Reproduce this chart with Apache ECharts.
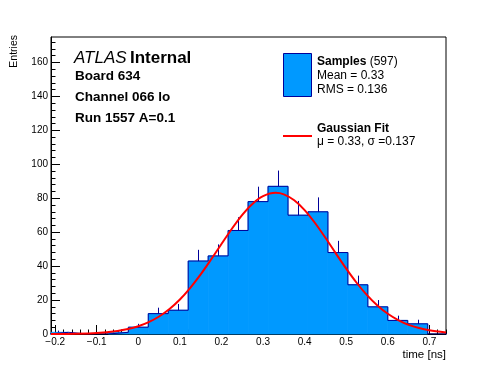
<!DOCTYPE html>
<html><head><meta charset="utf-8">
<script src="https://cdn.jsdelivr.net/npm/echarts@6/dist/echarts.min.js"></script>
<style>html,body{margin:0;padding:0;background:#fff}#c{width:496px;height:372px}</style>
</head><body><div id="c"></div>
<script>
// ---- data ----
const binCenters = [-0.192,-0.144,-0.096,-0.048,0,0.048,0.096,0.144,0.192,0.24,0.288,0.336,0.384,0.432,0.48,0.528,0.576,0.624,0.672,0.72];
const binCounts  = [1,0,0,1,4,12,14,43,46,61,78,87,70,72,48,29,16,8,6,0];
const binErrors  = [1,0,0,1,2,3.5,3.7,6.6,6.8,7.8,8.8,9.3,8.4,8.5,6.9,5.4,4,2.8,2.4,0];
const binWidth = 0.048;
const fitX = [-0.21,-0.15,-0.1,-0.05,-0.025,0,0.025,0.05,0.075,0.1,0.125,0.15,0.175,0.2,0.225,0.25,0.275,0.3,0.33,0.35,0.375,0.4,0.425,0.45,0.475,0.5,0.525,0.55,0.575,0.6,0.625,0.65,0.675,0.7,0.74];
const fitY = [0.04,0.18,0.6,1.8,2.9,4.6,7.0,10.3,14.7,20.3,27.2,35.1,43.9,53.0,62.0,70.2,76.8,81.2,83.2,82.3,78.8,73.0,65.4,56.7,47.5,38.5,30.2,22.9,16.8,11.9,8.2,5.4,3.5,2.2,0.94];
const xTicks = [-0.2,-0.1,0,0.1,0.2,0.3,0.4,0.5,0.6,0.7];
const yTicks = [0,20,40,60,80,100,120,140,160];
const xRange = [-0.21, 0.74];
const yRange = [0, 175];

const FONT = '"Liberation Sans", Arial, Helvetica, sans-serif';
const chart = echarts.init(document.getElementById('c'));

// minor ticks: 5 divisions per major interval, within the axis range
function minorTicks(major, range) {
  const step = (major[1] - major[0]) / 5;
  const out = [];
  const start = Math.ceil((range[0] - 1e-9) / step), end = Math.floor((range[1] + 1e-9) / step);
  for (let k = start; k <= end; k++) out.push(+(k * step).toFixed(6));
  return out;
}

const histData = binCenters.map((c, i) => [c, binCounts[i], binErrors[i]]);
const outline = [];
binCenters.forEach((c, i) => {
  const l = c - binWidth / 2, r = c + binWidth / 2;
  if (i === 0) outline.push([l, 0]);
  outline.push([l, binCounts[i]]);
  outline.push([r, binCounts[i]]);
  if (i === binCenters.length - 1) outline.push([r, 0]);
});
const fitData = fitX.map((x, i) => [x, fitY[i]]);

function fmtX(v) {
  if (Math.abs(v) < 1e-9) return '0';
  return (v < 0 ? '\u2212' : '') + Math.abs(v).toFixed(1);
}

chart.setOption({
  animation: false,
  backgroundColor: '#fff',
  grid: { left: 51, right: 50, top: 37, bottom: 38, show: true, borderColor: '#000', borderWidth: 1, backgroundColor: 'transparent' },
  xAxis: [
    {
      type: 'value', min: xRange[0], max: xRange[1], position: 'bottom',
      axisLine: { show: true, onZero: false, lineStyle: { color: '#000', width: 1 } },
      splitLine: { show: false },
      axisTick: { show: true, inside: true, length: 9, customValues: xTicks, lineStyle: { color: '#000' } },
      axisLabel: { show: true, customValues: xTicks, margin: 3, fontSize: 10, color: '#000', fontFamily: FONT, formatter: fmtX }
    },
    {
      type: 'value', min: xRange[0], max: xRange[1], position: 'bottom',
      axisLine: { show: false, onZero: false }, splitLine: { show: false }, axisLabel: { show: false },
      axisTick: { show: true, inside: true, length: 4.5, customValues: minorTicks(xTicks, xRange), lineStyle: { color: '#000' } }
    }
  ],
  yAxis: [
    {
      type: 'value', min: yRange[0], max: yRange[1], position: 'left',
      axisLine: { show: true, onZero: false, lineStyle: { color: '#000', width: 1 } },
      splitLine: { show: false },
      axisTick: { show: true, inside: true, length: 9, customValues: yTicks, lineStyle: { color: '#000' } },
      axisLabel: { show: true, customValues: yTicks, margin: 3, fontSize: 10, color: '#000', fontFamily: FONT }
    },
    {
      type: 'value', min: yRange[0], max: yRange[1], position: 'left',
      axisLine: { show: false, onZero: false }, splitLine: { show: false }, axisLabel: { show: false },
      axisTick: { show: true, inside: true, length: 4.5, customValues: minorTicks(yTicks, yRange), lineStyle: { color: '#000' } }
    }
  ],
  series: [
    {
      type: 'custom', name: 'Samples', xAxisIndex: 0, yAxisIndex: 0, z: 1,
      data: histData,
      renderItem: function (params, api) {
        const c = api.value(0), n = api.value(1);
        if (n <= 0) return null;
        const p0 = api.coord([c - binWidth / 2, n]);
        const p1 = api.coord([c + binWidth / 2, 0]);
        const shape = echarts.graphic.clipRectByRect(
          { x: p0[0], y: p0[1], width: p1[0] - p0[0], height: p1[1] - p0[1] },
          { x: params.coordSys.x, y: params.coordSys.y, width: params.coordSys.width, height: params.coordSys.height });
        return shape && { type: 'rect', shape: shape, style: { fill: '#0099ff', stroke: '#0099ff', lineWidth: 0.8 } };
      }
    },
    {
      type: 'custom', name: 'errors', xAxisIndex: 0, yAxisIndex: 0, z: 2,
      data: histData,
      renderItem: function (params, api) {
        const c = api.value(0), n = api.value(1), e = api.value(2);
        if (n <= 0) return null;
        const a = api.coord([c, n]);
        const b = api.coord([c, n + e]);
        const x = Math.round(a[0]) + 0.5;
        return { type: 'line', shape: { x1: x, y1: a[1], x2: x, y2: b[1] }, style: { stroke: '#000099', lineWidth: 1 } };
      }
    },
    {
      type: 'line', name: 'outline', data: outline, symbol: 'none', z: 3, clip: true,
      lineStyle: { color: '#000099', width: 1 }
    },
    {
      type: 'line', name: 'Gaussian Fit', data: fitData, symbol: 'none', smooth: 0.3, z: 4, clip: true,
      lineStyle: { color: '#ff0000', width: 2 }
    }
  ],
  graphic: [
    { type: 'text', x: 14, y: 35, rotation: Math.PI / 2, style: { text: 'Entries', fontSize: 10.5, fontFamily: FONT, fill: '#000', textAlign: 'right', textVerticalAlign: 'middle' } },
    { type: 'text', x: 446, y: 355, style: { text: 'time [ns]', fontSize: 11.5, fontFamily: FONT, fill: '#000', textAlign: 'right', textVerticalAlign: 'middle' } },
    { type: 'text', x: 74, y: 58.5, style: { text: '{a|ATLAS} {b|Internal}', textVerticalAlign: 'middle', fill: '#000',
        rich: { a: { fontStyle: 'italic', fontSize: 17, fontFamily: FONT, fill: '#000' }, b: { fontWeight: 'bold', fontSize: 17, fontFamily: FONT, fill: '#000' } } } },
    { type: 'text', x: 75, y: 76.5, style: { text: 'Board 634', fontSize: 13.5, fontWeight: 'bold', fontFamily: FONT, fill: '#000', textVerticalAlign: 'middle' } },
    { type: 'text', x: 75, y: 97.5, style: { text: 'Channel 066 lo', fontSize: 13.5, fontWeight: 'bold', fontFamily: FONT, fill: '#000', textVerticalAlign: 'middle' } },
    { type: 'text', x: 75, y: 118, style: { text: 'Run 1557 A=0.1', fontSize: 13.5, fontWeight: 'bold', fontFamily: FONT, fill: '#000', textVerticalAlign: 'middle' } },
    { type: 'rect', shape: { x: 283.5, y: 53.5, width: 28, height: 43 }, style: { fill: '#0099ff', stroke: '#000099', lineWidth: 1 } },
    { type: 'text', x: 317, y: 61.5, style: { text: '{a|Samples} {b|(597)}', textVerticalAlign: 'middle', fill: '#000',
        rich: { a: { fontWeight: 'bold', fontSize: 12, fontFamily: FONT, fill: '#000' }, b: { fontSize: 12, fontFamily: FONT, fill: '#000' } } } },
    { type: 'text', x: 317, y: 76, style: { text: 'Mean = 0.33', fontSize: 12, fontFamily: FONT, fill: '#000', textVerticalAlign: 'middle' } },
    { type: 'text', x: 317, y: 90, style: { text: 'RMS = 0.136', fontSize: 12, fontFamily: FONT, fill: '#000', textVerticalAlign: 'middle' } },
    { type: 'line', shape: { x1: 283, y1: 136, x2: 312, y2: 136 }, style: { stroke: '#ff0000', lineWidth: 2 } },
    { type: 'text', x: 317, y: 129, style: { text: 'Gaussian Fit', fontSize: 12, fontWeight: 'bold', fontFamily: FONT, fill: '#000', textVerticalAlign: 'middle' } },
    { type: 'text', x: 317, y: 142, style: { text: '\u03bc = 0.33, \u03c3 =0.137', fontSize: 12, fontFamily: FONT, fill: '#000', textVerticalAlign: 'middle' } }
  ]
});
</script>
</body></html>
